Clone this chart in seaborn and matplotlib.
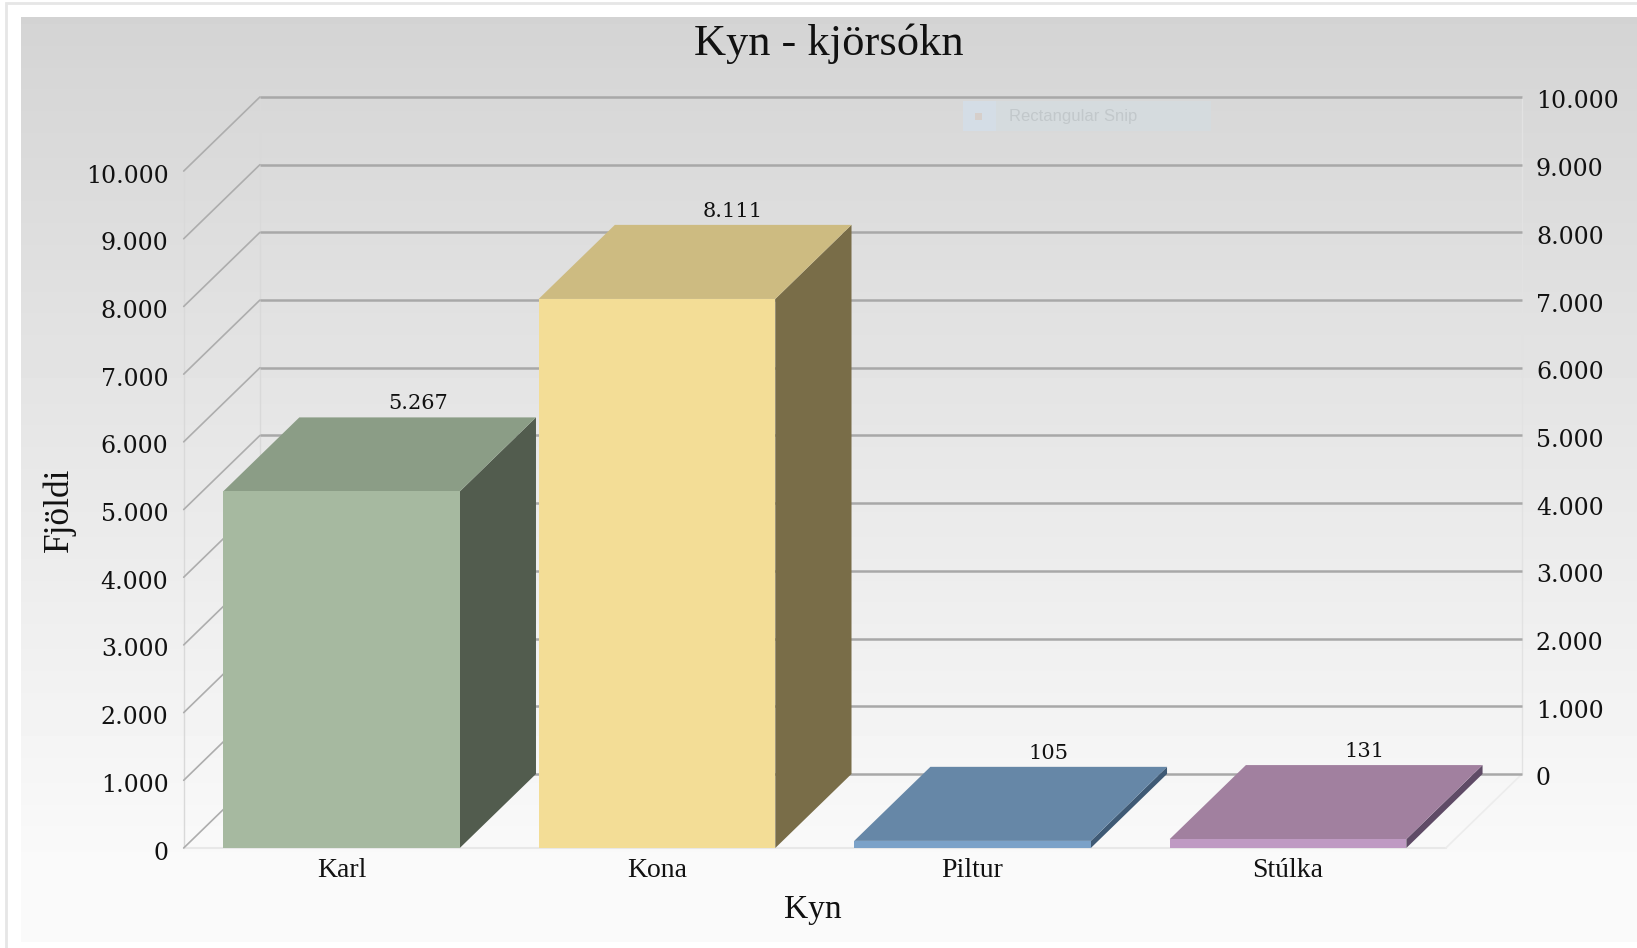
import numpy as np
import pandas as pd
import matplotlib
matplotlib.use("Agg")
import matplotlib.pyplot as plt
from matplotlib.patches import Rectangle
from matplotlib.transforms import ScaledTranslation
import seaborn as sns

# data
categories = ["Karl", "Kona", "Piltur", "Stúlka"]
votes = [5267, 8111, 105, 131]
value_ticks = [0, 1000, 2000, 3000, 4000, 5000, 6000, 7000, 8000, 9000, 10000]

front_colors = ["#a6b9a0", "#f3dd96", "#7ca2c8", "#bf9ac3"]
top_colors = ["#8b9d86", "#cdbb81", "#6687a7", "#a1809f"]
side_colors = ["#525c4e", "#796d48", "#3f5a75", "#5f4b66"]

W, H = 1637, 948
DEPTH_X = 0.2415    # in category units
DEPTH_Y = 1094      # in value units
GRID = "#a8a8a8"
WALL = "#d9d9d9"
SERIF = "Liberation Serif"
NUM_FONT = "DejaVu Serif"


def fmt(v):
    return f"{v:,}".replace(",", ".")


def px(x, y):
    return x / W, 1 - y / H


sns.set_theme(style="white")
fig = plt.figure(figsize=(W / 100, H / 100), dpi=100, facecolor="white")

# outer window edge
fig.add_artist(Rectangle(px(6, H + 10), W, (H + 7) / H, transform=fig.transFigure,
                         fill=False, edgecolor="#e6e6e6", linewidth=2))

# grey background gradient
bg = fig.add_axes([21 / W, 1 - 942 / H, (W - 21) / W, (942 - 17) / H], zorder=0)
shade = np.interp(np.linspace(0, 1, 256), [0, 0.9, 1], [212, 249, 250])
bg.imshow(shade[:, None], cmap="gray", vmin=0, vmax=255, aspect="auto")
bg.axis("off")

ax = fig.add_axes([183.7 / W, 1 - 848 / H, (1522 - 183.7) / W, (848 - 97) / H], zorder=1)
ax.patch.set_alpha(0)

df = pd.DataFrame({"Kyn": categories, "Fjöldi": votes})
sns.barplot(data=df, x="Kyn", y="Fjöldi", hue="Kyn", palette=front_colors,
            width=0.75, legend=False, saturation=1, linewidth=0, zorder=3, ax=ax)

x0, x1 = -0.5, len(categories) - 0.5
ymax = value_ticks[-1]
ax.set_xlim(x0, x1 + DEPTH_X)
ax.set_ylim(0, ymax + DEPTH_Y)

# walls and floor of the 3D box
ax.plot([x0, x0], [0, ymax], color=WALL, lw=1, zorder=1, clip_on=False)
ax.plot([x0 + DEPTH_X] * 2, [DEPTH_Y, ymax + DEPTH_Y], color=WALL, lw=1, zorder=1, clip_on=False)
ax.plot([x1 + DEPTH_X] * 2, [DEPTH_Y, ymax + DEPTH_Y], color="#e2e2e2", lw=1, zorder=1, clip_on=False)
ax.plot([x0, x1], [0, 0], color="#e8e8e8", lw=1.5, zorder=1, clip_on=False)
ax.plot([x1, x1 + DEPTH_X], [0, DEPTH_Y], color="#ececec", lw=1.2, zorder=1, clip_on=False)

for v in value_ticks:
    ax.plot([x0, x0 + DEPTH_X], [v, v + DEPTH_Y], color="#adadad", lw=1.2, zorder=1, clip_on=False)
    ax.plot([x0 + DEPTH_X, x1 + DEPTH_X], [v + DEPTH_Y] * 2, color=GRID, lw=1.8, zorder=1,
            clip_on=False, solid_capstyle="butt")

# side and top faces, taken from the seaborn bars
for bar, top_c, side_c, v in zip(ax.patches, top_colors, side_colors, votes):
    left, right = bar.get_x(), bar.get_x() + bar.get_width()
    h = bar.get_height()
    ax.fill([right, right + DEPTH_X, right + DEPTH_X, right],
            [0, DEPTH_Y, h + DEPTH_Y, h], color=side_c, lw=0, zorder=2, clip_on=False)
    ax.fill([left, left + DEPTH_X, right + DEPTH_X, right],
            [h, h + DEPTH_Y, h + DEPTH_Y, h], color=top_c, lw=0, zorder=2, clip_on=False)
    ax.annotate(fmt(v), ((left + right) / 2 + DEPTH_X, h + DEPTH_Y), xytext=(0, 3),
                textcoords="offset points", ha="center", va="bottom",
                fontsize=15, family=NUM_FONT, color="#111111", zorder=5)

sns.despine(ax=ax, left=True, bottom=True)
ax.set_xticks(range(len(categories)), categories, fontsize=20, family=SERIF, color="#111111")
ax.set_yticks(value_ticks, [fmt(v) for v in value_ticks], fontsize=17, family=NUM_FONT, color="#111111")
ax.tick_params(axis="x", length=0, pad=7)
ax.tick_params(axis="y", length=0, pad=11)

ax.set_xlabel("Kyn", fontsize=24, family=SERIF, color="#111111")
ax.xaxis.set_label_coords(*ax.transAxes.inverted().transform(
    fig.transFigure.transform(px(813, 910))))
ax.xaxis.label.set_va("center")
ax.set_ylabel("Fjöldi", fontsize=25.5, family=SERIF, color="#111111")
ax.yaxis.set_label_coords(*ax.transAxes.inverted().transform(
    fig.transFigure.transform(px(59, 510))))
ax.yaxis.label.set_va("center")

# right axis reads the back wall
ax2 = ax.twinx()
ax2.set_ylim(-DEPTH_Y, ymax)
ax2.set_yticks(value_ticks, [fmt(v) for v in value_ticks], fontsize=17, family=NUM_FONT, color="#111111")
ax2.tick_params(axis="y", length=0, pad=10)
ax2.grid(False)
ax2.patch.set_alpha(0)
sns.despine(ax=ax2, left=True, bottom=True, right=True)

# the number labels sit a little under their grid lines
nudge = ScaledTranslation(0, -2.5 / 100, fig.dpi_scale_trans)
for lab in ax.get_yticklabels() + ax2.get_yticklabels():
    lab.set_transform(lab.get_transform() + nudge)

fig.text(*px(829, 44), "Kyn - kjörsókn", fontsize=32, family=SERIF, color="#111111",
         ha="center", va="center")

# faint screen capture tooltip left in the picture
fig.add_artist(Rectangle(px(963, 131), 248 / W, 30 / H, transform=fig.transFigure,
                         facecolor="#d5dbde", edgecolor="none", zorder=2))
fig.add_artist(Rectangle(px(963, 131), 33 / W, 30 / H, transform=fig.transFigure,
                         facecolor="#d4dde6", edgecolor="none", zorder=2))
fig.add_artist(Rectangle(px(975, 120), 7 / W, 7 / H, transform=fig.transFigure,
                         facecolor="#d6cfcb", edgecolor="none", zorder=2))
fig.text(*px(1009, 116), "Rectangular Snip", fontsize=12, family="Liberation Sans",
         color="#c2c8cb", ha="left", va="center", zorder=3)

fig.savefig("out.png", dpi=100)
